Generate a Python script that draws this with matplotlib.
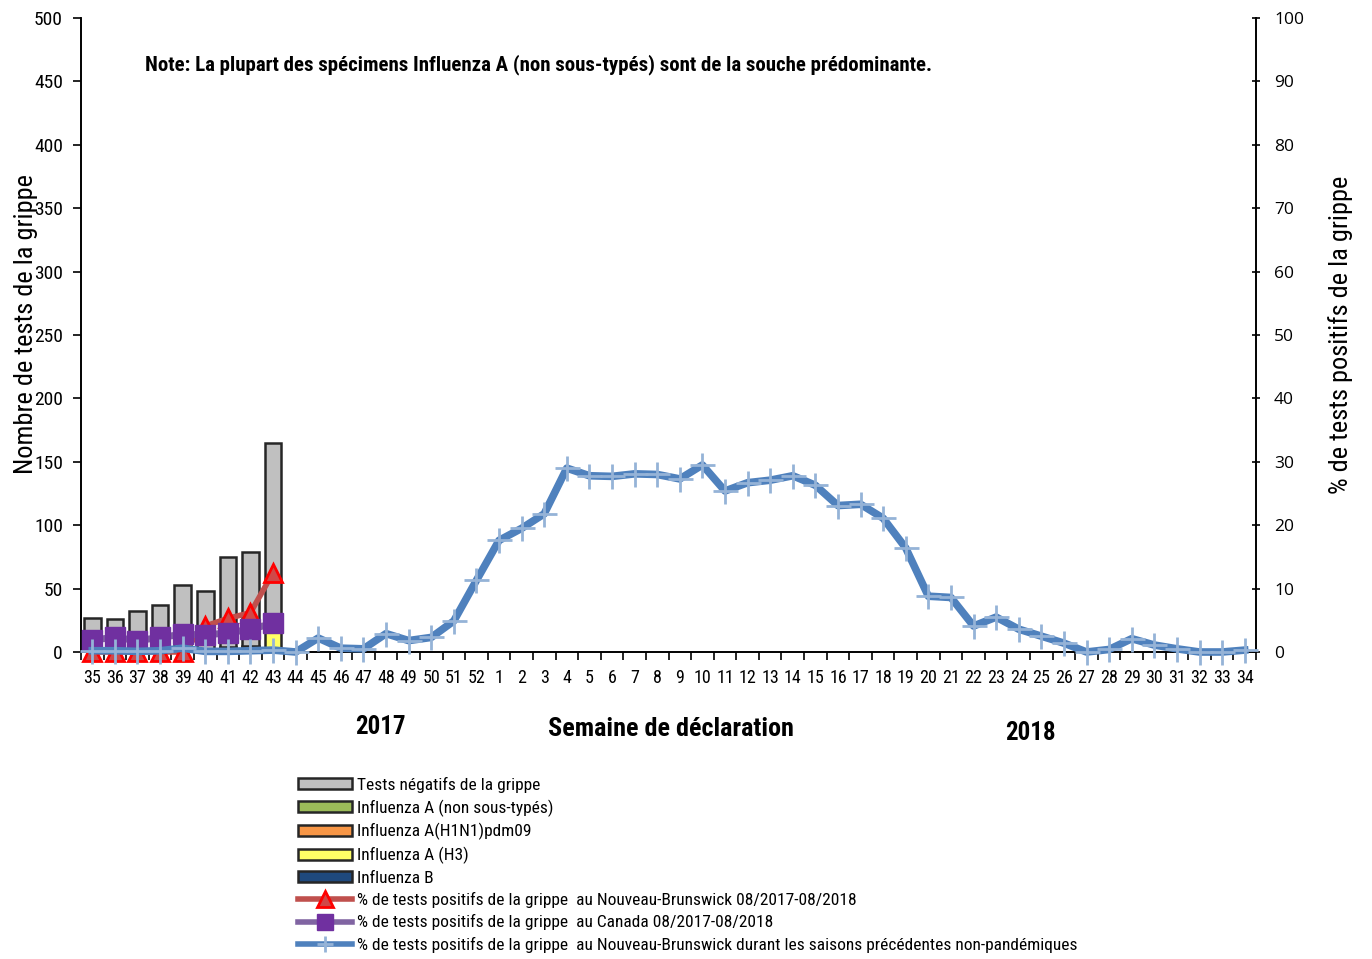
import matplotlib
matplotlib.use("Agg")
import matplotlib.pyplot as plt
from matplotlib.patches import Patch
from matplotlib.lines import Line2D
import numpy as np

NARROW = ['Roboto Condensed', 'PT Sans Narrow', 'Liberation Sans', 'DejaVu Sans']
plt.rcParams['font.family'] = NARROW

weeks = ['35', '36', '37', '38', '39', '40', '41', '42', '43', '44', '45', '46', '47', '48',
         '49', '50', '51', '52', '1', '2', '3', '4', '5', '6', '7', '8', '9', '10', '11', '12',
         '13', '14', '15', '16', '17', '18', '19', '20', '21', '22', '23', '24', '25', '26',
         '27', '28', '29', '30', '31', '32', '33', '34']

# Bar data (weeks 35 to 43)
neg_tests = [27, 26, 32, 37, 53, 46, 71, 74, 144]
flu_a_unsub = [0, 0, 0, 0, 0, 0, 1, 1, 2]
flu_h1n1 = [0, 0, 0, 0, 0, 0, 0, 0, 0]
flu_h3 = [0, 0, 0, 0, 0, 1, 2, 2, 16]
flu_b = [0, 0, 0, 0, 0, 1, 1, 2, 3]

pct_nb = [0, 0, 0, 0, 0, 4.1, 5.3, 6.2, 12.5]
pct_canada = [1.9, 2.3, 1.8, 2.3, 2.8, 2.7, 3.0, 3.6, 4.5]
pct_hist = [0.2, 0.2, 0.1, 0.2, 0.6, 0.1, 0.1, 0.2, 0.3, 0.0, 2.2, 0.6, 0.5, 2.9,
            1.8, 2.3, 4.9, 11.3, 17.6, 19.5, 21.8, 29.0, 27.8, 27.7, 28.1, 28.0, 27.3,
            29.5, 25.4, 26.7, 27.1, 27.8, 26.3, 23.1, 23.3, 21.1, 16.4, 8.8, 8.6, 4.1,
            5.5, 3.6, 2.5, 1.4, 0.0, 0.4, 2.1, 1.1, 0.5, 0.0, 0.0, 0.3]

fig = plt.figure(figsize=(13.72, 9.59), dpi=100)
ax = fig.add_axes([81/1372, 1-652/959, (1256-81)/1372, (652-18)/959])
ax2 = ax.twinx()

x = np.arange(len(weeks))
xb = x[:len(neg_tests)]
w = 0.74
ec = '#262626'
bottom = np.zeros(len(neg_tests))
series = [(flu_b, '#1F497D'), (flu_h3, '#FFFF66'), (flu_h1n1, '#F79646'),
          (flu_a_unsub, '#9BBB59'), (neg_tests, '#C0C0C0')]
for vals, col in series:
    v = np.array(vals, dtype=float)
    ax.bar(xb, v, w, bottom=bottom, color=col, edgecolor=ec, linewidth=1.8, zorder=2)
    bottom += v

ax.set_xlim(-0.5, len(weeks) - 0.5)
ax.set_ylim(0, 500)
ax.set_yticks(np.arange(0, 501, 50))
ax2.set_ylim(0, 100)
ax2.set_yticks(np.arange(0, 101, 10))

ax.set_xticks(x)
ax.set_xticklabels(weeks, fontsize=13)
ax.set_xticks(np.arange(-0.5, len(weeks), 1), minor=True)
ax.tick_params(axis='x', which='major', length=0, pad=12)
ax.tick_params(axis='x', which='minor', length=6, width=1.2, direction='out')
ax.tick_params(axis='y', labelsize=14, length=6, width=1.2, direction='out', pad=7)
ax2.tick_params(axis='y', length=6, width=1.2, direction='inout', pad=10)
for lab in ax2.get_yticklabels():
    lab.set_fontfamily(['Open Sans', 'DejaVu Sans'])
    lab.set_fontsize(12.5)

for a in (ax, ax2):
    a.spines['top'].set_visible(False)
    a.spines['left'].set_linewidth(1.2)
    a.spines['right'].set_linewidth(1.2)
    a.spines['bottom'].set_linewidth(1.2)
ax2.set_zorder(ax.get_zorder() + 1)
ax.patch.set_visible(True)
ax2.patch.set_visible(False)

ax2.plot(xb, pct_nb, color='#C0504D', lw=4, marker='^', markersize=13,
         markerfacecolor='#D04848', markeredgecolor='#FF0000', markeredgewidth=2,
         clip_on=False, zorder=3)
ax2.plot(xb, pct_canada, color='#8064A2', lw=5, marker='s', markersize=15,
         markerfacecolor='#7030A0', markeredgecolor='#7030A0', clip_on=False, zorder=4)
ax2.plot(x, pct_hist, color='#4F81BD', lw=5.5, marker='+', markersize=18,
         markeredgecolor='#95B3D7', markeredgewidth=2, clip_on=False, zorder=5)

ax.set_ylabel('Nombre de tests de la grippe', fontsize=19)
ax.yaxis.set_label_coords(-0.037, 0.517)
ax2.set_ylabel('% de tests positifs de la grippe', fontsize=19)
ax2.yaxis.set_label_coords(1.061, 0.5)

fig.text(671/1372, 1-729/959, 'Semaine de déclaration', fontsize=18.8, fontweight='bold',
         ha='center', va='center')
fig.text(380/1372, 1-727/959, '2017', fontsize=18, fontweight='bold', ha='center', va='center')
fig.text(1030/1372, 1-733/959, '2018', fontsize=18, fontweight='bold', ha='center', va='center')
fig.text(145/1372, 1-65/959,
         'Note: La plupart des spécimens Influenza A (non sous-typés) sont de la souche prédominante.',
         fontsize=15, fontweight='bold', ha='left', va='center')

handles = [
    Patch(facecolor='#C0C0C0', edgecolor=ec, linewidth=1.8),
    Patch(facecolor='#9BBB59', edgecolor=ec, linewidth=1.8),
    Patch(facecolor='#F79646', edgecolor=ec, linewidth=1.8),
    Patch(facecolor='#FFFF66', edgecolor=ec, linewidth=1.8),
    Patch(facecolor='#1F497D', edgecolor=ec, linewidth=1.8),
    Line2D([], [], color='#C0504D', lw=4, marker='^', markersize=12,
           markerfacecolor='#D04848', markeredgecolor='#FF0000', markeredgewidth=2),
    Line2D([], [], color='#8064A2', lw=4, marker='s', markersize=12,
           markerfacecolor='#7030A0', markeredgecolor='#7030A0'),
    Line2D([], [], color='#4F81BD', lw=4, marker='+', markersize=12,
           markeredgecolor='#95B3D7', markeredgewidth=2),
]
labels = [
    'Tests négatifs de la grippe',
    'Influenza A (non sous-typés)',
    'Influenza A(H1N1)pdm09',
    'Influenza A (H3)',
    'Influenza B',
    '% de tests positifs de la grippe  au Nouveau-Brunswick 08/2017-08/2018',
    '% de tests positifs de la grippe  au Canada 08/2017-08/2018',
    '% de tests positifs de la grippe  au Nouveau-Brunswick durant les saisons précédentes non-pandémiques',
]
fig.legend(handles, labels, loc='upper left', bbox_to_anchor=(298/1372, 1-777/959),
           frameon=False, fontsize=12.5, handlelength=3.1, handleheight=0.6,
           handletextpad=0.3, labelspacing=0.37, borderpad=0, borderaxespad=0)

fig.savefig('out.png', dpi=100)
